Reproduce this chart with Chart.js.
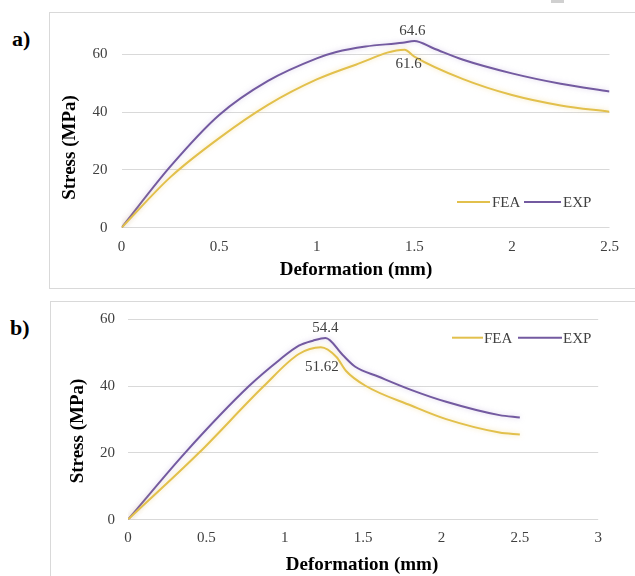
<!DOCTYPE html>
<html><head><meta charset="utf-8">
<script src="https://cdn.jsdelivr.net/npm/chart.js@4.4.0/dist/chart.umd.min.js"></script>
<style>
html,body{margin:0;padding:0;background:#fff;width:635px;height:576px;overflow:hidden;position:relative;font-family:"Liberation Serif",serif}
.frame{position:absolute;border:1px solid #d9d9d9;box-sizing:border-box}
.wrap{position:absolute}
.tag{position:absolute;font-weight:bold;font-size:22px;color:#000;line-height:1}
</style></head><body>
<div style="position:absolute;left:551px;top:0;width:13px;height:3px;background:#d0d0d0"></div>
<div class="frame" style="left:49px;top:12px;width:600px;height:277px"></div>
<div class="frame" style="left:50px;top:301px;width:600px;height:290px"></div>
<div class="tag" style="left:12px;top:28px">a)</div>
<div class="tag" style="left:10px;top:317px">b)</div>
<div class="wrap" style="left:50px;top:13px;width:585px;height:275px"><canvas id="ca"></canvas></div>
<div class="wrap" style="left:51px;top:302px;width:584px;height:274px"><canvas id="cb"></canvas></div>
<script>
// ---- data ----
const seriesNames = ['FEA', 'EXP'];
// chart a)
const feaA_x = [0, 0.25, 0.5, 0.75, 1.0, 1.2, 1.45, 1.5, 1.75, 2.0, 2.25, 2.5];
const feaA_y = [0, 17.5, 31, 42.5, 51.3, 56.4, 61.6, 59.2, 51.4, 45.9, 42.3, 40.1];
const expA_x = [0, 0.25, 0.5, 0.75, 1.0, 1.1, 1.25, 1.44, 1.5, 1.6, 1.75, 2.0, 2.25, 2.5];
const expA_y = [0, 21.2, 39, 50.8, 58.6, 60.8, 62.7, 64.0, 64.6, 62.0, 58.1, 53.4, 49.8, 47.1];
// chart b)
const feaB_x = [0, 0.453, 0.867, 1.09, 1.23, 1.33, 1.39, 1.515, 1.81, 2.03, 2.37, 2.5];
const feaB_y = [0, 20, 40, 49.6, 51.62, 48.7, 44.6, 40.1, 34.1, 30.1, 26.1, 25.5];
const expB_x = [0, 0.364, 0.772, 0.96, 1.09, 1.18, 1.26, 1.37, 1.45, 1.6, 1.81, 2.03, 2.37, 2.5];
const expB_y = [0, 20, 40, 47.6, 52.1, 53.6, 54.4, 49.3, 45.8, 42.8, 38.8, 35.3, 31.3, 30.6];
// tick labels
const yTicks = [0, 20, 40, 60];
const xTicksA = [0, 0.5, 1, 1.5, 2, 2.5];
const xTicksB = [0, 0.5, 1, 1.5, 2, 2.5, 3];
const xTitle = 'Deformation (mm)';
const yTitle = 'Stress (MPa)';

// ---- styles ----
const COLORS = ['#e2c04c', '#735aa0'];
const GLOWS = ['rgba(236,206,110,0.55)', 'rgba(185,165,215,0.55)'];
const SERIF = '"Liberation Serif", "Times New Roman", serif';

function pts(xs, ys){ return xs.map((x,i)=>({x:x, y:ys[i]})); }

function decor(o){
  return {
    id: 'decor',
    beforeDatasetDraw(chart, args){
      const ctx = chart.ctx; ctx.save();
      ctx.shadowColor = GLOWS[args.index]; ctx.shadowBlur = 5;
    },
    afterDatasetDraw(chart){ chart.ctx.restore(); },
    afterDraw(chart){
      const ctx = chart.ctx, xs = chart.scales.x, ys = chart.scales.y;
      ctx.save();
      ctx.fillStyle = '#000';
      ctx.font = 'bold 19px ' + SERIF;
      ctx.textAlign = 'center'; ctx.textBaseline = 'middle';
      ctx.fillText(xTitle, o.xTitlePos[0], o.xTitlePos[1]);
      ctx.save(); ctx.translate(o.yTitlePos[0], o.yTitlePos[1]); ctx.rotate(-Math.PI/2);
      ctx.fillText(yTitle, 0, 0); ctx.restore();
      // legend
      ctx.font = '15px ' + SERIF; ctx.fillStyle = '#404040'; ctx.textAlign = 'left';
      chart.data.datasets.forEach((ds, i) => {
        const L = o.legend[i];
        ctx.strokeStyle = ds.borderColor; ctx.lineWidth = 2;
        ctx.beginPath(); ctx.moveTo(L[0], o.legendY); ctx.lineTo(L[1], o.legendY); ctx.stroke();
        ctx.fillText(ds.label, L[2], o.legendY + 1);
      });
      // peak labels
      ctx.textAlign = 'center';
      chart.data.datasets.forEach((ds, i) => {
        const best = ds.data.reduce((a, b) => b.y > a.y ? b : a);
        const px = xs.getPixelForValue(best.x) + o.peakOff[i][0];
        const py = ys.getPixelForValue(best.y) + o.peakOff[i][1];
        ctx.fillText(String(best.y), px, py);
      });
      ctx.restore();
    }
  };
}

function zeroPad(s){ s.paddingTop = 0; s.paddingBottom = 0; s.paddingLeft = 0; s.paddingRight = 0; }

function makeChart(id, fea, exp, xTicks, o){
  return new Chart(document.getElementById(id), {
    type: 'line',
    data: { datasets: [
      { label: seriesNames[0], data: fea, borderColor: COLORS[0], borderWidth: 2, pointRadius: 0, cubicInterpolationMode: 'monotone', fill: false },
      { label: seriesNames[1], data: exp, borderColor: COLORS[1], borderWidth: 2, pointRadius: 0, cubicInterpolationMode: 'monotone', fill: false }
    ]},
    options: {
      responsive: true, maintainAspectRatio: false, animation: false,
      layout: { padding: o.padding },
      plugins: { legend: { display: false }, tooltip: { enabled: false } },
      scales: {
        x: {
          type: 'linear', min: xTicks[0], max: xTicks[xTicks.length-1],
          grid: { display: false, drawTicks: false }, border: { display: false },
          afterBuildTicks: s => { s.ticks = xTicks.map(v => ({ value: v })); },
          afterFit: s => { s.height = o.xH; zeroPad(s); },
          ticks: { padding: o.xPad, color: '#404040', font: { family: SERIF, size: 15 }, maxRotation: 0, autoSkip: false, callback: v => String(v) }
        },
        y: {
          type: 'linear', min: 0, max: o.yMax,
          grid: { color: '#d9d9d9', lineWidth: 1, drawTicks: false }, border: { display: false },
          afterBuildTicks: s => { s.ticks = yTicks.map(v => ({ value: v })); },
          afterFit: s => { s.width = o.yW; zeroPad(s); },
          ticks: { padding: o.yPad, color: '#404040', font: { family: SERIF, size: 15 }, callback: v => String(v) }
        }
      }
    },
    plugins: [decor(o)]
  });
}

makeChart('ca', pts(feaA_x, feaA_y), pts(expA_x, expA_y), xTicksA, {
  padding: { left: 0, top: 12.4, right: 25.5, bottom: 0 },
  xH: 60.3, yW: 71.6, xPad: 10.5, yPad: 14, yMax: 70,
  xTitlePos: [306, 257], yTitlePos: [20, 134.5],
  legendY: 189, legend: [[407, 440, 442], [474, 511, 513]],
  peakOff: [[4, 14], [-2, -10]]
});
makeChart('cb', pts(feaB_x, feaB_y), pts(expB_x, expB_y), xTicksB, {
  padding: { left: 0, top: 17.3, right: 36.8, bottom: 0 },
  xH: 56.4, yW: 77, xPad: 9.5, yPad: 13, yMax: 60,
  xTitlePos: [311, 263], yTitlePos: [27, 129],
  legendY: 35.7, legend: [[401, 432, 433], [467, 511, 512]],
  peakOff: [[1, 20], [0, -10]]
});
</script>
</body></html>
